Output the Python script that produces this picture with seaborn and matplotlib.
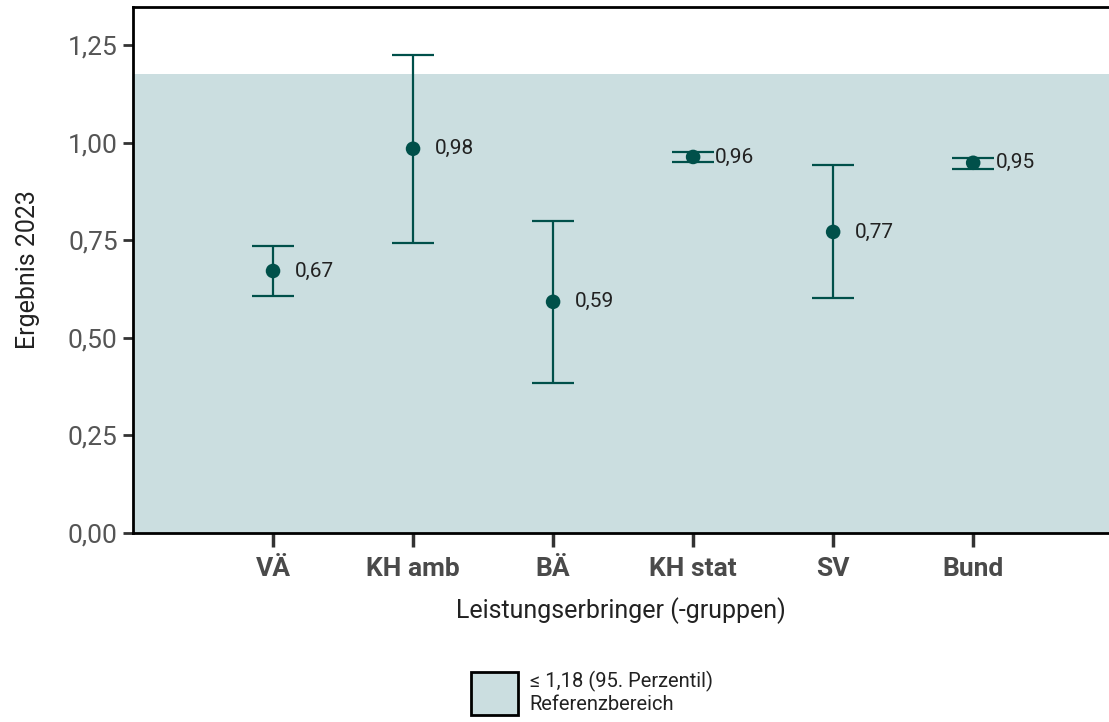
import numpy as np
import pandas as pd
import seaborn as sns
import matplotlib.pyplot as plt
from matplotlib.patches import Patch
from matplotlib.ticker import FuncFormatter

groups = ['VÄ', 'KH amb', 'BÄ', 'KH stat', 'SV', 'Bund']
estimate = [0.671, 0.984, 0.592, 0.963, 0.771, 0.948]
ci_low = [0.607, 0.743, 0.384, 0.950, 0.602, 0.932]
ci_high = [0.735, 1.224, 0.799, 0.976, 0.943, 0.960]
ref_limit = 1.176

dark = '#00504a'
band = '#cbdee0'

sns.set_theme(style='white')
plt.rcParams['font.family'] = ['Roboto', 'DejaVu Sans']

df = pd.DataFrame({'group': groups, 'est': estimate, 'lo': ci_low, 'hi': ci_high})

fig = plt.figure(figsize=(11.09, 7.22), dpi=100)
ax = fig.add_axes([133/1109, (722-533)/722, 1-133/1109, (533-7)/722])

ax.axhspan(0, ref_limit, color=band, zorder=0, lw=0)

yerr = [df['est'] - df['lo'], df['hi'] - df['est']]
ax.errorbar(x=np.arange(len(df)), y=df['est'], yerr=yerr, fmt='none', ecolor=dark,
            elinewidth=1.6, capsize=15, capthick=1.6, zorder=2)
sns.scatterplot(data=df, x='group', y='est', color=dark, s=110, edgecolor='none', ax=ax, zorder=3)

for i, v in enumerate(df['est']):
    ax.annotate(f'{v:.2f}'.replace('.', ','), (i, v), xytext=(16, 0), textcoords='offset points',
                va='center', ha='left', fontsize=15, color='#222222')

ax.set_xlim(-1, 5.97)
ax.set_ylim(0, 1.347)
ax.set_yticks([0, 0.25, 0.5, 0.75, 1.0, 1.25])
ax.yaxis.set_major_formatter(FuncFormatter(lambda v, p: f'{v:.2f}'.replace('.', ',')))

for s in ['left', 'bottom', 'top']:
    ax.spines[s].set_color('black')
    ax.spines[s].set_linewidth(2)
ax.spines['right'].set_visible(False)

ax.tick_params(axis='y', left=True, length=7, width=2, color='#333333', labelsize=19, labelcolor='#555555', pad=4)
ax.tick_params(axis='x', bottom=True, length=10, width=2.5, color='#333333', labelsize=19, labelcolor='#4a4a4a', pad=7)
for lab in ax.get_xticklabels():
    lab.set_fontweight('bold')

ax.set_xlabel('Leistungserbringer (-gruppen)', fontsize=18, color='#222222', labelpad=12)
ax.set_ylabel('Ergebnis 2023', fontsize=18, color='#222222', labelpad=20)

handle = Patch(facecolor=band, edgecolor='black', linewidth=2)
fig.legend(handles=[handle], labels=['≤ 1,18 (95. Perzentil)\nReferenzbereich'],
           loc='center', bbox_to_anchor=(592/1109, 1 - 693/722), frameon=False,
           fontsize=14.5, handlelength=2.3, handleheight=2.95, handletextpad=0.6,
           labelcolor='#222222')

fig.savefig('out.png', dpi=100)
